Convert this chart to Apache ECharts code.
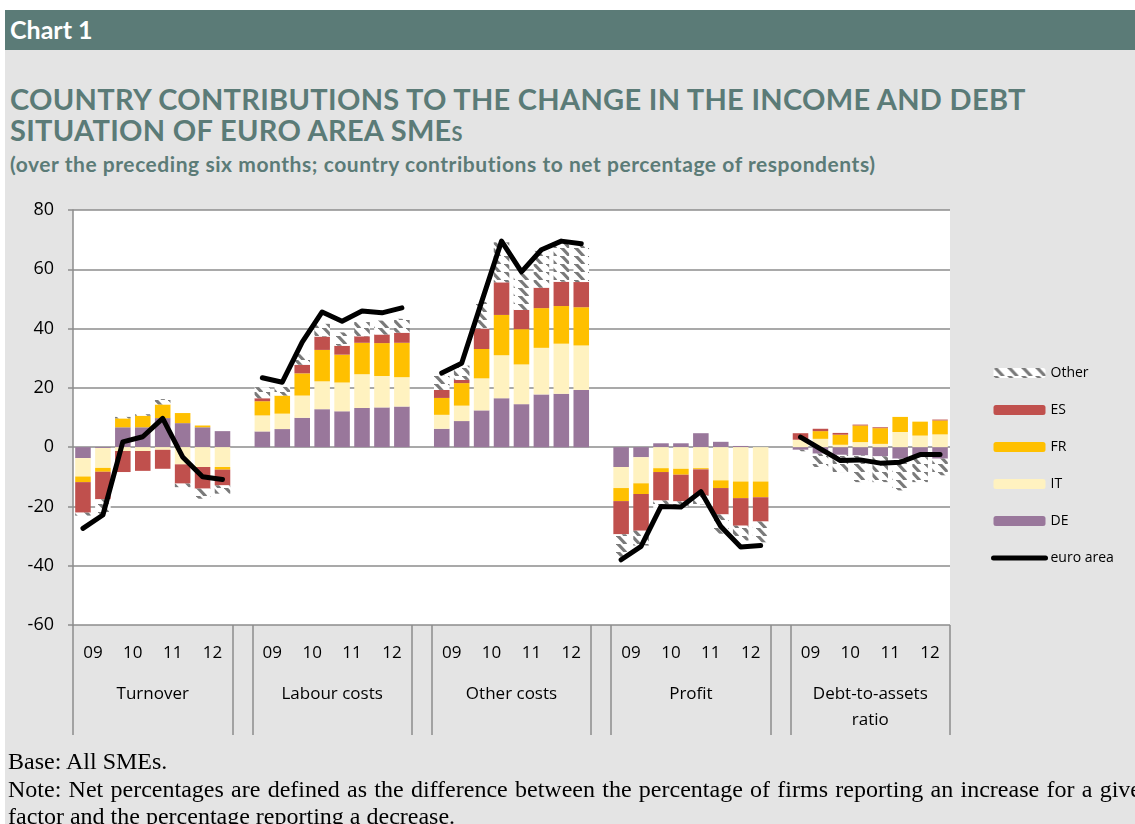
<!DOCTYPE html>
<html>
<head>
    <meta charset="utf-8">
    <title>Chart 1</title>
    <script src="https://cdn.jsdelivr.net/npm/echarts@6/dist/echarts.min.js"></script>
    <style>
        body { margin: 0; background: #fff; width: 1135px; height: 824px; overflow: hidden; position: relative; }
        .panel { position: absolute; left: 5px; top: 10px; width: 1130px; height: 814px; background: #e4e4e4; }
        .bar { position: absolute; left: 5px; top: 10px; width: 1130px; height: 40px; background: #5b7b77; }
        .bar span { position: absolute; left: 5px; top: 4px; color: #fff; font: bold 25px Lato, sans-serif; }
        .title { position: absolute; left: 10px; top: 83px; color: #5b7b77; font: bold 29px/31px Lato, sans-serif; letter-spacing: 0.3px; white-space: nowrap; }
        .sub { position: absolute; left: 10px; top: 151px; color: #5b7b77; font: bold 21px Lato, sans-serif; letter-spacing: 0.55px; white-space: nowrap; }
        #main { position: absolute; left: 0; top: 0; width: 1135px; height: 824px; }
        .notes { position: absolute; left: 8px; top: 748px; width: 1145px; font: 24px/27.5px "Liberation Serif", serif; color: #000; white-space: nowrap; }
        .just { text-align: justify; text-align-last: justify; }
    </style>
</head>
<body>
<div class="panel"></div>
<div class="bar"><span>Chart 1</span></div>
<div class="title">COUNTRY CONTRIBUTIONS TO THE CHANGE IN THE INCOME AND DEBT<br>SITUATION OF EURO AREA SME<span style="font-variant: small-caps">s</span></div>
<div class="sub">(over the preceding six months; country contributions to net percentage of respondents)</div>
<div id="main"></div>
<div class="notes">
    <div>Base: All SMEs.</div>
    <div class="just">Note: Net percentages are defined as the difference between the percentage of firms reporting an increase for a given</div>
    <div>factor and the percentage reporting a decrease.</div>
</div>

<script>
    // groups of the lower axis, years of the upper one (two half-year bars per year)
    var groups = ['Turnover', 'Labour costs', 'Other costs', 'Profit', 'Debt-to-assets\nratio'];
    var years = ['09', '10', '11', '12'];

    // contributions, 8 half-years per group:
    // Turnover | Labour costs | Other costs | Profit | Debt-to-assets
    var de = [-3.7, -0.3, 6.7, 6.7, 9.8, 8.1, 6.7, 5.4,
              5.3, 6.1, 9.9, 12.8, 12.1, 13.2, 13.4, 13.7,
              6.2, 8.8, 12.4, 16.5, 14.5, 17.8, 18.0, 19.3,
              -6.7, -3.4, 1.3, 1.3, 4.7, 1.8, 0.4, 0,
              -0.9, -2.2, -2.6, -2.8, -3.1, -3.9, -3.4, -3.9];
    var it = [-6.2, -6.7, -1.3, -1.3, -0.9, -5.8, -6.7, -6.7,
              5.4, 5.2, 7.5, 9.4, 9.7, 11.4, 10.6, 9.9,
              4.7, 5.2, 10.8, 14.5, 13.4, 15.7, 16.9, 15.0,
              -7.1, -8.8, -7.1, -7.3, -7.1, -11.2, -11.6, -11.6,
              2.5, 2.8, 0.8, 1.7, 1.1, 5.1, 3.9, 4.3];
    var fr = [-1.9, -1.3, 3.0, 3.9, 4.6, 3.4, 0.6, -0.9,
              4.8, 6.1, 7.5, 10.6, 9.4, 10.6, 11.1, 11.6,
              5.7, 7.6, 9.9, 13.6, 11.9, 13.4, 12.7, 12.9,
              -4.4, -3.6, -1.3, -2.0, -0.4, -2.6, -5.6, -5.3,
              0, 2.6, 3.4, 5.6, 5.3, 5.1, 4.7, 4.7];
    var es = [-10.3, -9.3, -7.1, -6.7, -6.4, -6.5, -7.3, -5.3,
              1.0, 0, 2.9, 4.5, 3.0, 2.2, 2.9, 3.4,
              2.7, 1.1, 6.9, 11.0, 6.5, 6.9, 8.2, 8.5,
              -11.2, -12.4, -9.6, -9.0, -8.8, -8.9, -9.3, -8.2,
              2.2, 0.8, 0.6, 0.3, 0.3, 0, 0, 0.3];
    var other = [-1, -5.3, 0.5, 0.5, 1.8, -1.2, -3.4, -2.8,
                 3.7, 2.9, 3.6, 4.3, 4.5, 4.8, 4.7, 4.7,
                 4.8, 4.8, 9, 13.5, 12.1, 12.4, 13.4, 12.3,
                 -7.6, -5, -2.5, -1.7, -3, -6.5, -5, -7,
                 -0.5, -4.5, -5.8, -9, -8.7, -10.7, -8.4, -5.6];
    var euroArea = [-27.4, -22.9, 1.8, 3.5, 9.7, -3.3, -10.0, -10.9,
                    23.4, 21.9, 35.4, 45.6, 42.5, 45.9, 45.3, 47.0,
                    25.0, 28.3, 49.0, 69.5, 59.1, 66.6, 69.5, 68.6,
                    -38.0, -33.5, -20.0, -20.2, -15.0, -26.8, -33.7, -33.2,
                    3.4, -0.6, -4.5, -4.3, -5.4, -5.1, -2.5, -2.5];

    var PER = 8;            // bars per group
    var STEP = PER + 1;     // plus one empty slot between groups
    var TOTAL = groups.length * STEP - 1;

    // category list and data with an empty slot between the groups
    var cats = [];
    groups.forEach(function (g, gi) {
        for (var k = 0; k < PER; k++) cats.push(gi + '_' + k);
        if (gi < groups.length - 1) cats.push('gap' + gi);
    });
    function withGaps(arr) {
        var out = [];
        for (var gi = 0; gi < groups.length; gi++) {
            out = out.concat(arr.slice(gi * PER, gi * PER + PER));
            if (gi < groups.length - 1) out.push(null);
        }
        return out;
    }

    // positions on the 0..TOTAL scale for separators and labels
    var sepPos = [], yearPos = [], yearText = {}, groupPos = [], groupText = {};
    groups.forEach(function (g, gi) {
        var s = gi * STEP;
        sepPos.push(s, s + PER);
        years.forEach(function (y, yi) {
            yearPos.push(s + 1 + yi * 2);
            yearText[s + 1 + yi * 2] = y;
        });
        groupPos.push(s + PER / 2);
        groupText[s + PER / 2] = g;
    });

    // grey downward diagonal hatch for "Other"
    var tile = document.createElement('canvas');
    tile.width = 14; tile.height = 8;
    var cx = tile.getContext('2d');
    cx.fillStyle = '#fff';
    cx.fillRect(0, 0, 14, 8);
    cx.strokeStyle = '#7a7a7a';
    cx.lineWidth = 3.2;
    cx.beginPath();
    cx.moveTo(1, -1); cx.lineTo(10, 8.5);
    cx.stroke();
    var hatch = { image: tile, repeat: 'repeat' };

    var gray = '#8c8c8c';
    var myChart = echarts.init(document.getElementById('main'));

    function barSeries(name, data, color) {
        return {
            name: name,
            type: 'bar',
            stack: 'c',
            barWidth: '78%',
            data: withGaps(data),
            itemStyle: { color: color }
        };
    }

    myChart.setOption({
        animation: false,
        grid: { left: 73, right: 185, top: 210, bottom: 199, show: true, backgroundColor: '#fff', borderWidth: 0 },
        legend: {
            orient: 'vertical',
            left: 991,
            top: 366,
            padding: 0,
            itemWidth: 52,
            itemHeight: 10,
            itemGap: 23,
            textStyle: { fontSize: 14, color: '#000', fontFamily: 'Open Sans' },
            data: ['Other', 'ES', 'FR', 'IT', 'DE',
                { name: 'euro area', itemStyle: { opacity: 0 }, lineStyle: { width: 5 } }]
        },
        xAxis: [
            {
                type: 'category',
                position: 'bottom',
                data: cats,
                axisLine: { show: false },
                axisTick: { show: false },
                axisLabel: { show: false }
            },
            {
                type: 'value',
                position: 'bottom',
                min: 0,
                max: TOTAL,
                axisLine: { show: false },
                splitLine: { show: false },
                axisTick: { show: true, customValues: sepPos, length: 110, lineStyle: { color: gray, width: 1.5 } },
                axisLabel: {
                    customValues: yearPos,
                    margin: 20,
                    fontSize: 17,
                    color: '#000',
                    fontFamily: 'Open Sans',
                    formatter: function (v) { return yearText[v] || ''; }
                }
            },
            {
                type: 'value',
                position: 'bottom',
                min: 0,
                max: TOTAL,
                axisLine: { show: false },
                splitLine: { show: false },
                axisTick: { show: false },
                axisLabel: {
                    customValues: groupPos,
                    margin: 56,
                    fontSize: 17,
                    lineHeight: 26,
                    verticalAlign: 'top',
                    color: '#000',
                    fontFamily: 'Open Sans',
                    formatter: function (v) { return groupText[v] || ''; }
                }
            }
        ],
        yAxis: {
            type: 'value',
            min: -60,
            max: 80,
            interval: 20,
            axisLine: { show: true, lineStyle: { color: gray, width: 1.5 } },
            axisTick: { show: true, length: 5, lineStyle: { color: gray, width: 1.5 } },
            axisLabel: { fontSize: 18, color: '#000', margin: 19, fontFamily: 'Open Sans' },
            splitLine: { lineStyle: { color: gray, width: 1.5 } }
        },
        series: [
            barSeries('DE', de, '#99779b'),
            barSeries('IT', it, '#fff2c0'),
            barSeries('FR', fr, '#ffc000'),
            barSeries('ES', es, '#c0504d'),
            barSeries('Other', other, hatch),
            {
                name: 'euro area',
                type: 'line',
                data: withGaps(euroArea),
                symbol: 'none',
                z: 5,
                itemStyle: { color: '#000' },
                lineStyle: { color: '#000', width: 5, cap: 'round', join: 'round' }
            }
        ]
    });
</script>
</body>
</html>
